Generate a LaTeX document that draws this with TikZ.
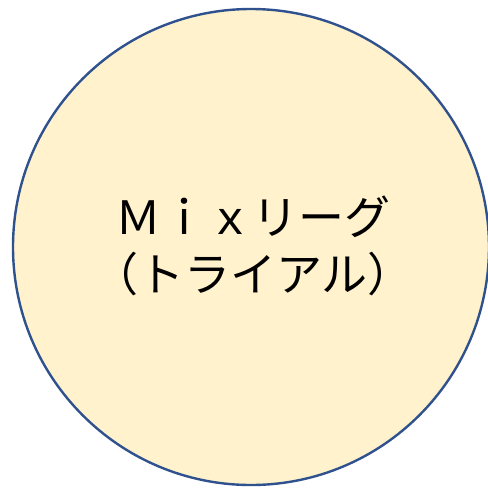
\documentclass[tikz,border=0pt]{standalone}
\usepackage{fontspec}
\newfontfamily\cjk{Noto Sans CJK JP}
\definecolor{circfill}{HTML}{FFF2CC}
\definecolor{circline}{HTML}{2F528F}
\begin{document}
\begin{tikzpicture}[x=1pt,y=-1pt,
  bubble/.style={circle,draw=circline,fill=circfill,line width=2.4pt,minimum size=476pt,inner sep=0pt},
  label/.style={align=center,text=black,font=\cjk\fontsize{46}{57}\selectfont}]
\useasboundingbox (0,0) rectangle (488,488);
\node[bubble] (c) at (251,247) {};
\node[label] (t) at (253,246) {Ｍｉｘリーグ\\（トライアル）};
\end{tikzpicture}
\end{document}
